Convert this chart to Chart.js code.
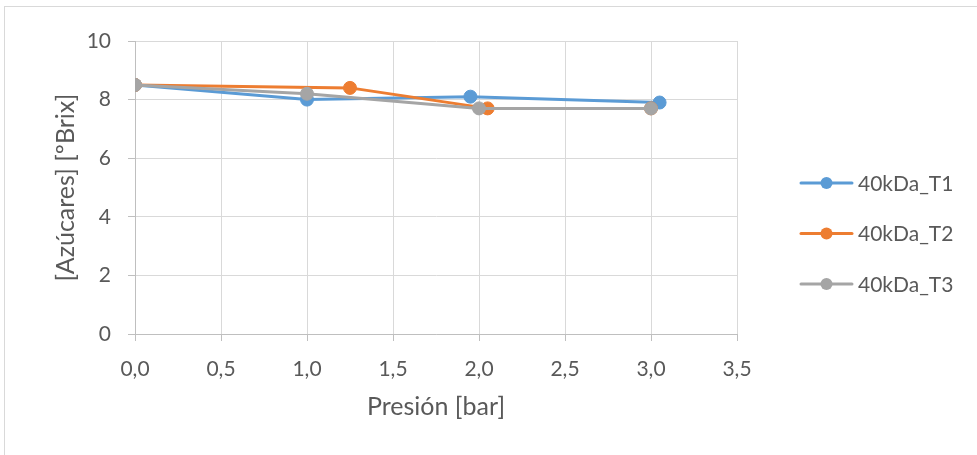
<!DOCTYPE html>
<html>
<head>
<meta charset="utf-8">
<script src="https://cdn.jsdelivr.net/npm/chart.js@4.4.1/dist/chart.umd.min.js"></script>
<style>
  html, body { margin: 0; padding: 0; background: #fff; overflow: hidden; }
  #frame { position: absolute; left: 4px; top: 6px; width: 1000px; height: 500px; border: 1px solid #D9D9D9; box-sizing: border-box; }
  #c { position: absolute; left: 0; top: 0; }
</style>
</head>
<body>
<div id="frame"></div>
<canvas id="c" width="977" height="455"></canvas>
<script>
// Sugar content (ºBrix) against transmembrane pressure for the 40 kDa membrane
const seriesNames = ['40kDa_T1', '40kDa_T2', '40kDa_T3'];
const pressureT1 = [0.0, 1.0, 1.95, 3.05];
const brixT1     = [8.5, 8.0, 8.1, 7.9];
const pressureT2 = [0.0, 1.25, 2.05, 3.0];
const brixT2     = [8.5, 8.4, 7.7, 7.7];
const pressureT3 = [0.0, 1.0, 2.0, 3.0];
const brixT3     = [8.5, 8.2, 7.7, 7.7];
const seriesColors = ['#5B9BD5', '#ED7D31', '#A5A5A5'];

const xTicks = [0, 0.5, 1.0, 1.5, 2.0, 2.5, 3.0, 3.5];
const yTicks = [0, 2, 4, 6, 8, 10];

const textColor = '#595959';
const fontFamily = 'Lato, "Open Sans", sans-serif';

function points(xs, ys) {
  return xs.map((x, i) => ({ x: x, y: ys[i] }));
}

const pairs = [[pressureT1, brixT1], [pressureT2, brixT2], [pressureT3, brixT3]];
const datasets = pairs.map((p, i) => ({
  label: seriesNames[i],
  data: points(p[0], p[1]),
  showLine: true,
  borderColor: seriesColors[i],
  backgroundColor: seriesColors[i],
  borderWidth: 3,
  borderCapStyle: 'round',
  borderJoinStyle: 'round',
  pointRadius: 6.5,
  pointBorderWidth: 1,
  pointBorderColor: seriesColors[i],
  pointBackgroundColor: seriesColors[i],
  order: pairs.length - i
}));

// Legend on the right: short line with a marker, then the series name
const sideLegend = {
  id: 'sideLegend',
  afterDraw(chart) {
    const ctx = chart.ctx;
    ctx.save();
    chart.data.datasets.forEach((ds, i) => {
      const y = 183 + i * 50.5;
      ctx.strokeStyle = ds.borderColor;
      ctx.lineWidth = 3;
      ctx.lineCap = 'round';
      ctx.beginPath();
      ctx.moveTo(801, y);
      ctx.lineTo(852, y);
      ctx.stroke();
      ctx.fillStyle = ds.borderColor;
      ctx.beginPath();
      ctx.arc(826.5, y, 6, 0, Math.PI * 2);
      ctx.fill();
      ctx.fillStyle = textColor;
      ctx.font = '21px ' + fontFamily;
      ctx.textAlign = 'left';
      ctx.textBaseline = 'middle';
      ctx.fillText(ds.label, 858, y + 1);
    });
    ctx.restore();
  }
};

new Chart(document.getElementById('c'), {
  type: 'scatter',
  data: { datasets: datasets },
  plugins: [sideLegend],
  options: {
    responsive: false,
    animation: false,
    devicePixelRatio: 1,
    layout: { padding: { left: 0, top: 41, right: 240, bottom: 0 } },
    plugins: { legend: { display: false }, tooltip: { enabled: false } },
    scales: {
      x: {
        type: 'linear',
        min: xTicks[0],
        max: xTicks[xTicks.length - 1],
        afterBuildTicks: s => { s.ticks = xTicks.map(v => ({ value: v })); },
        afterFit: s => { s.height = 121; },
        ticks: {
          color: textColor,
          font: { family: fontFamily, size: 21 },
          padding: 16,
          callback: v => v.toFixed(1).replace('.', ',')
        },
        grid: { color: '#D9D9D9', tickColor: '#BFBFBF', tickLength: 7, lineWidth: 1 },
        border: { color: '#BFBFBF', width: 1 },
        title: {
          display: true,
          text: 'Presión [bar]',
          color: textColor,
          font: { family: fontFamily, size: 25 },
          padding: { top: 0, bottom: 33 }
        }
      },
      y: {
        type: 'linear',
        min: yTicks[0],
        max: yTicks[yTicks.length - 1],
        afterBuildTicks: s => { s.ticks = yTicks.map(v => ({ value: v })); },
        afterFit: s => { s.width = 135; },
        ticks: {
          color: textColor,
          font: { family: fontFamily, size: 21 },
          padding: 17,
          callback: v => String(v)
        },
        grid: { color: '#D9D9D9', tickColor: '#BFBFBF', tickLength: 7, lineWidth: 1 },
        border: { color: '#BFBFBF', width: 1 },
        title: {
          display: true,
          text: '[Azúcares] [ºBrix]',
          color: textColor,
          font: { family: fontFamily, size: 25 },
          padding: { top: 51, bottom: 0 }
        }
      }
    }
  }
});
</script>
</body>
</html>
